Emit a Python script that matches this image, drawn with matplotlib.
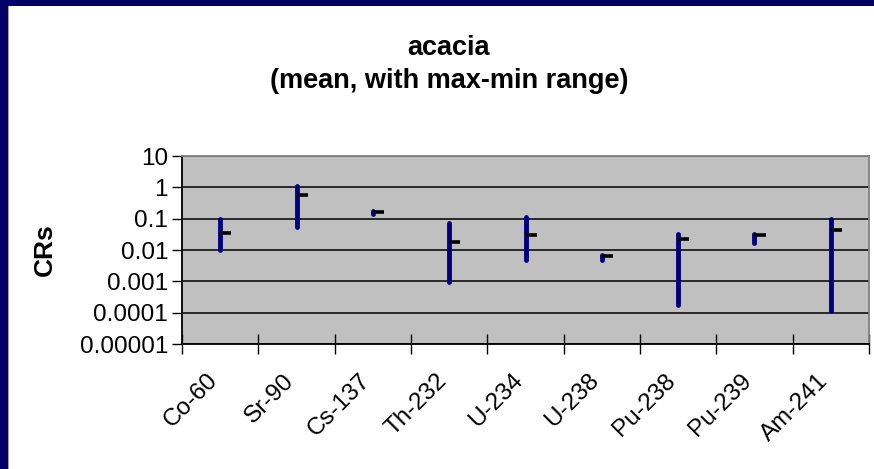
import matplotlib
matplotlib.use("Agg")
import matplotlib.pyplot as plt
import matplotlib.transforms as mtransforms
from matplotlib.patches import Rectangle
import numpy as np

categories = ["Co-60", "Sr-90", "Cs-137", "Th-232", "U-234", "U-238", "Pu-238", "Pu-239", "Am-241"]
max_vals = [0.10, 1.08, 0.17, 0.073, 0.11, 0.0068, 0.032, 0.032, 0.095]
min_vals = [0.010, 0.053, 0.14, 0.00093, 0.0048, 0.0048, 0.00017, 0.017, 0.00011]
mean_vals = [0.035, 0.57, 0.163, 0.018, 0.030, 0.0066, 0.023, 0.031, 0.042]
y_ticks = [0.00001, 0.0001, 0.001, 0.01, 0.1, 1, 10]
y_labels = ["0.00001", "0.0001", "0.001", "0.01", "0.1", "1", "10"]

plt.rcParams['font.family'] = ['Liberation Sans', 'DejaVu Sans']

W, H = 874, 469
fig = plt.figure(figsize=(W / 100, H / 100), dpi=100)
fig.patch.set_facecolor("white")

# navy frame (left and top)
fig.patches.append(Rectangle((0, 0), 7.5 / W, 1, transform=fig.transFigure,
                             facecolor="#000066", edgecolor="none", zorder=0))
fig.patches.append(Rectangle((7.5 / W, 0), 1.2 / W, 1 - 6.5 / H, transform=fig.transFigure,
                             facecolor="#A0A0A0", edgecolor="none", zorder=0))
fig.patches.append(Rectangle((0, 1 - 6.5 / H), 1, 6.5 / H, transform=fig.transFigure,
                             facecolor="#000066", edgecolor="none", zorder=0))

left, right, top, bottom = 182, 869, 156, 344
ax = fig.add_axes([left / W, 1 - bottom / H, (right - left) / W, (bottom - top) / H])
ax.set_facecolor("#C0C0C0")
ax.set_yscale("log")
ax.set_ylim(1e-5, 10)
ax.set_xlim(-0.5, len(categories) - 0.5)

x = np.arange(len(categories))
ax.set_yticks(y_ticks)
ax.set_yticklabels(y_labels, fontsize=17.5)
ax.yaxis.set_minor_locator(matplotlib.ticker.NullLocator())
ax.grid(axis="y", color="black", linewidth=1.1)
ax.set_axisbelow(True)
ax.tick_params(axis="y", which="major", direction="out", length=7, width=1, pad=3)

ax.set_xticks(x)
ax.set_xticklabels(categories, fontsize=17.5, rotation=45, ha="right", va="center",
                   rotation_mode="anchor")
ax.tick_params(axis="x", which="major", length=0, pad=24)
ax.set_xticks(np.arange(-0.5, len(categories)), minor=True)
ax.tick_params(axis="x", which="minor", direction="inout", length=14, width=1)
shift = mtransforms.ScaledTranslation(-6 / 100, 0, fig.dpi_scale_trans)
for lab in ax.get_xticklabels():
    lab.set_transform(lab.get_transform() + shift)

for s in ["left", "bottom"]:
    ax.spines[s].set_color("black")
    ax.spines[s].set_linewidth(1.3)
for s in ["top", "right"]:
    ax.spines[s].set_color("#808080")
    ax.spines[s].set_linewidth(1.3)

# range bars
for xi, lo, hi in zip(x, min_vals, max_vals):
    ax.plot([xi, xi], [lo, hi], color="#000080", linewidth=3.5,
            solid_capstyle="round", zorder=3)
# mean ticks
for xi, m in zip(x, mean_vals):
    ax.plot([xi, xi + 0.145], [m, m], color="black", linewidth=2.6,
            solid_capstyle="butt", zorder=4)

ax.set_ylabel("CRs", fontsize=19, fontweight="bold")
ax.yaxis.set_label_coords(-(left - 57) / (right - left), 0.5)

fig.text(449 / W, 1 - 55 / H, "acacia", ha="center", va="baseline",
         fontsize=19.5, fontweight="bold")
fig.text(449 / W, 1 - 88 / H, "(mean, with max-min range)", ha="center", va="baseline",
         fontsize=19.5, fontweight="bold")

fig.savefig("out.png", dpi=100, facecolor=fig.get_facecolor())
